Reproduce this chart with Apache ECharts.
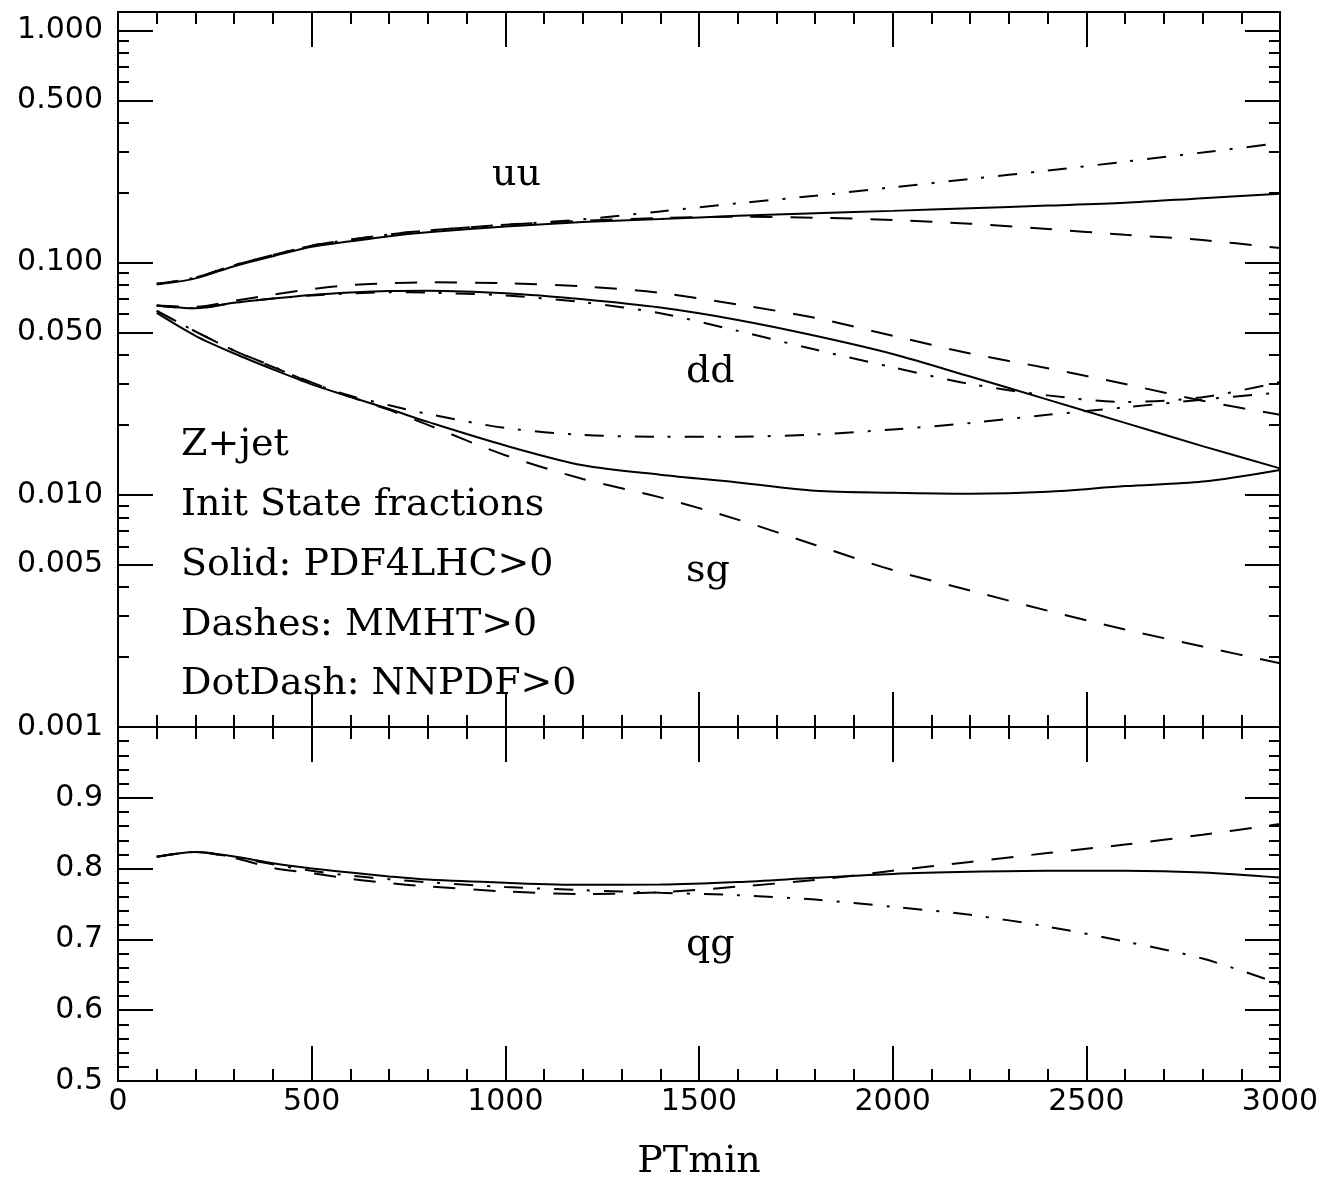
<!DOCTYPE html>
<html><head><meta charset="utf-8">
<script src="https://cdn.jsdelivr.net/npm/echarts@6/dist/echarts.min.js"></script>
<style>html,body{margin:0;padding:0;background:#fff}#c{width:1323px;height:1182px}</style>
</head><body><div id="c"></div>
<script>
// ---- data ----
const ptmin = [100,200,300,400,500,600,700,800,1000,1200,1400,1600,1800,2000,2200,2400,2600,2800,3000];

const uuSolid = [0.0804,0.0855,0.0965,0.1065,0.1170,0.1235,0.1300,0.1350,0.1430,0.1494,0.1540,0.1590,0.1630,0.1670,0.1715,0.1760,0.1810,0.1895,0.1980];
const uuDash  = [0.0810,0.0862,0.0975,0.1078,0.1182,0.1255,0.1322,0.1375,0.1455,0.1515,0.1555,0.1575,0.1560,0.1527,0.1470,0.1395,0.1318,0.1250,0.1155];
const uuDot   = [0.0810,0.0862,0.0975,0.1078,0.1182,0.1255,0.1322,0.1375,0.1455,0.1535,0.1660,0.1800,0.1940,0.2110,0.2290,0.2490,0.2720,0.2980,0.3270];

const ddSolid = [0.0654,0.0636,0.0672,0.0700,0.0725,0.0743,0.0755,0.0757,0.0738,0.0695,0.0640,0.0566,0.0484,0.0404,0.0323,0.0257,0.0204,0.0162,0.0130];
const ddDash  = [0.0654,0.0645,0.0685,0.0728,0.0768,0.0800,0.0815,0.0822,0.0815,0.0790,0.0740,0.0660,0.0578,0.0484,0.0406,0.0351,0.0300,0.0254,0.0221];
const ddDot   = [0.0654,0.0636,0.0670,0.0700,0.0722,0.0737,0.0745,0.0742,0.0722,0.0675,0.0605,0.0508,0.0422,0.0354,0.0300,0.0268,0.0251,0.0263,0.0306];

const sgSolid = [0.0607,0.0484,0.0406,0.0347,0.0299,0.0264,0.0234,0.0206,0.0163,0.0134,0.0122,0.0113,0.0104,0.0102,0.0101,0.0103,0.0109,0.0114,0.0128];
const sgDash  = [0.0620,0.0505,0.0418,0.0355,0.0305,0.0264,0.0232,0.0200,0.0148,0.0117,0.00975,0.00782,0.00608,0.00474,0.00387,0.00317,0.00263,0.00222,0.00188];
const sgDot   = [0.0620,0.0505,0.0418,0.0357,0.0303,0.0267,0.0243,0.0223,0.0194,0.0181,0.0178,0.0178,0.0182,0.0191,0.0204,0.0221,0.0238,0.0257,0.0276];

const qgSolid = [0.8166,0.8236,0.8170,0.8075,0.8003,0.7945,0.7890,0.7845,0.7800,0.7772,0.7775,0.7810,0.7870,0.7925,0.7955,0.7970,0.7970,0.7945,0.7873];
const qgDash  = [0.8166,0.8236,0.8150,0.8010,0.7935,0.7855,0.7795,0.7748,0.7678,0.7642,0.7665,0.7745,0.7840,0.7970,0.8094,0.8220,0.8340,0.8478,0.8631];
const qgDot   = [0.8166,0.8236,0.8160,0.8060,0.7970,0.7900,0.7850,0.7808,0.7740,0.7695,0.7658,0.7625,0.7562,0.7460,0.7347,0.7180,0.6970,0.6730,0.6370];

// tick values / labels
const logMajorTicks  = [1, 0.5, 0.1, 0.05, 0.01, 0.005, 0.001];
const logMajorLabels = ['1.000','0.500','0.100','0.050','0.010','0.005','0.001'];
const logMinorTicks  = [0.9,0.8,0.7,0.6,0.4,0.3,0.2,
                        0.09,0.08,0.07,0.06,0.04,0.03,0.02,
                        0.009,0.008,0.007,0.006,0.004,0.003,0.002];
const fracTicks  = [0.5,0.6,0.7,0.8,0.9];
const fracLabels = ['0.5','0.6','0.7','0.8','0.9'];
const xTickValues = [0,500,1000,1500,2000,2500,3000];
const xTickLabels = ['0','500','1000','1500','2000','2500','3000'];
const topMax = 1.2;

const texts = {
  legend: ['Z+jet','Init State fractions','Solid: PDF4LHC>0','Dashes: MMHT>0','DotDash: NNPDF>0'],
  uu: 'uu', dd: 'dd', sg: 'sg', qg: 'qg', xName: 'PTmin'
};

// ---- build ----
const L = v => Math.log10(v);
const topPairs = arr => ptmin.map((x,i)=>[x, L(arr[i])]);
const botPairs = arr => ptmin.map((x,i)=>[x, arr[i]]);
const nearestLabel = (ticks, labels, v, f) => {
  let best = 0, d = 1e9;
  ticks.forEach((t,i)=>{ const e = Math.abs(f(t)-v); if (e<d){d=e;best=i;} });
  return labels[best];
};

const BLACK = '#000';
const SANS = '"DejaVu Sans", sans-serif';
const SERIF = '"DejaVu Serif", serif';
const LBL_SIZE = 30;
const TXT_SIZE = 38;

const line2 = {color:BLACK, width:2};

function xAxisDef(grid, pos, showLabel, extra) {
  return Object.assign({
    type:'value', gridIndex:grid, position:pos, min:0, max:3000, interval:500,
    axisLine:{show:true, onZero:false, lineStyle:line2},
    axisTick:{show:true, inside:true, length:35, lineStyle:line2},
    minorTick:{show:true, splitNumber:5, length:12, lineStyle:line2},
    splitLine:{show:false}, minorSplitLine:{show:false},
    axisLabel:{show:showLabel, color:BLACK, fontFamily:SANS, fontSize:LBL_SIZE, margin:6,
               formatter: v => nearestLabel(xTickValues, xTickLabels, v, t=>t)}
  }, extra||{});
}

function logYAxis(pos, ticks, len, labels) {
  return {
    type:'value', gridIndex:0, position:pos, min:-3, max:L(topMax),
    axisLine:{show:true, onZero:false, lineStyle:line2},
    axisTick:{show:true, inside:true, length:len, customValues:ticks.map(L), lineStyle:line2},
    minorTick:{show:false}, splitLine:{show:false},
    axisLabel: labels ? {
      show:true, customValues:logMajorTicks.map(L), color:BLACK, fontFamily:SANS, fontSize:LBL_SIZE, margin:15,
      formatter: v => nearestLabel(logMajorTicks, logMajorLabels, v, L)
    } : {show:false}
  };
}

function linYAxis(pos, labels) {
  return {
    type:'value', gridIndex:1, position:pos, min:0.5, max:1.0, interval:0.1,
    axisLine:{show:true, onZero:false, lineStyle:line2},
    axisTick:{show:true, inside:true, length:35, lineStyle:line2},
    minorTick:{show:true, splitNumber:5, length:11, lineStyle:line2},
    splitLine:{show:false}, minorSplitLine:{show:false},
    axisLabel: labels ? {
      show:true, customValues:fracTicks, color:BLACK, fontFamily:SANS, fontSize:LBL_SIZE, margin:15,
      formatter: v => nearestLabel(fracTicks, fracLabels, v, t=>t)
    } : {show:false}
  };
}

const DASH = [22, 18];
const DOTDASH = [19, 14, 3, 14];

function ser(data, type, xi, yi) {
  return {type:'line', xAxisIndex:xi, yAxisIndex:yi, data, symbol:'none', smooth:0.3,
          silent:true, lineStyle:{color:BLACK, width:2, type:type}};
}

const tFont = TXT_SIZE + 'px ' + SERIF;
function txt(s, x, y) {
  return {type:'text', x, y, silent:true,
          style:{text:s, fill:BLACK, font:tFont, align:'left', verticalAlign:'middle'}};
}

const option = {
  backgroundColor:'#fff',
  animation:false,
  grid:[
    {left:118, right:43, top:12, height:715},
    {left:118, right:43, top:727, height:358}
  ],
  xAxis:[
    xAxisDef(0,'bottom',false),
    xAxisDef(0,'top',false),
    xAxisDef(1,'top',false),
    xAxisDef(1,'bottom',true,{
      name:texts.xName, nameLocation:'middle', nameGap:62,
      nameTextStyle:{color:BLACK, fontFamily:SERIF, fontSize:TXT_SIZE}
    })
  ],
  yAxis:[
    logYAxis('left', logMajorTicks, 35, true),
    logYAxis('left', logMinorTicks, 11, false),
    logYAxis('right', logMajorTicks, 35, false),
    logYAxis('right', logMinorTicks, 11, false),
    linYAxis('left', true),
    linYAxis('right', false)
  ],
  series:[
    ser(topPairs(uuSolid),'solid',0,0),
    ser(topPairs(uuDash),DASH,0,0),
    ser(topPairs(uuDot),DOTDASH,0,0),
    ser(topPairs(ddSolid),'solid',0,0),
    ser(topPairs(ddDash),DASH,0,0),
    ser(topPairs(ddDot),DOTDASH,0,0),
    ser(topPairs(sgSolid),'solid',0,0),
    ser(topPairs(sgDash),DASH,0,0),
    ser(topPairs(sgDot),DOTDASH,0,0),
    ser(botPairs(qgSolid),'solid',3,4),
    ser(botPairs(qgDash),DASH,3,4),
    ser(botPairs(qgDot),DOTDASH,3,4)
  ],
  graphic:[
    txt(texts.legend[0],181,445),
    txt(texts.legend[1],181,505),
    txt(texts.legend[2],181,565),
    txt(texts.legend[3],181,625),
    txt(texts.legend[4],181,684),
    txt(texts.uu,492,175),
    txt(texts.dd,686,372),
    txt(texts.sg,686,571),
    txt(texts.qg,686,945)
  ]
};

const chart = echarts.init(document.getElementById('c'));
chart.setOption(option);
</script>
</body></html>
